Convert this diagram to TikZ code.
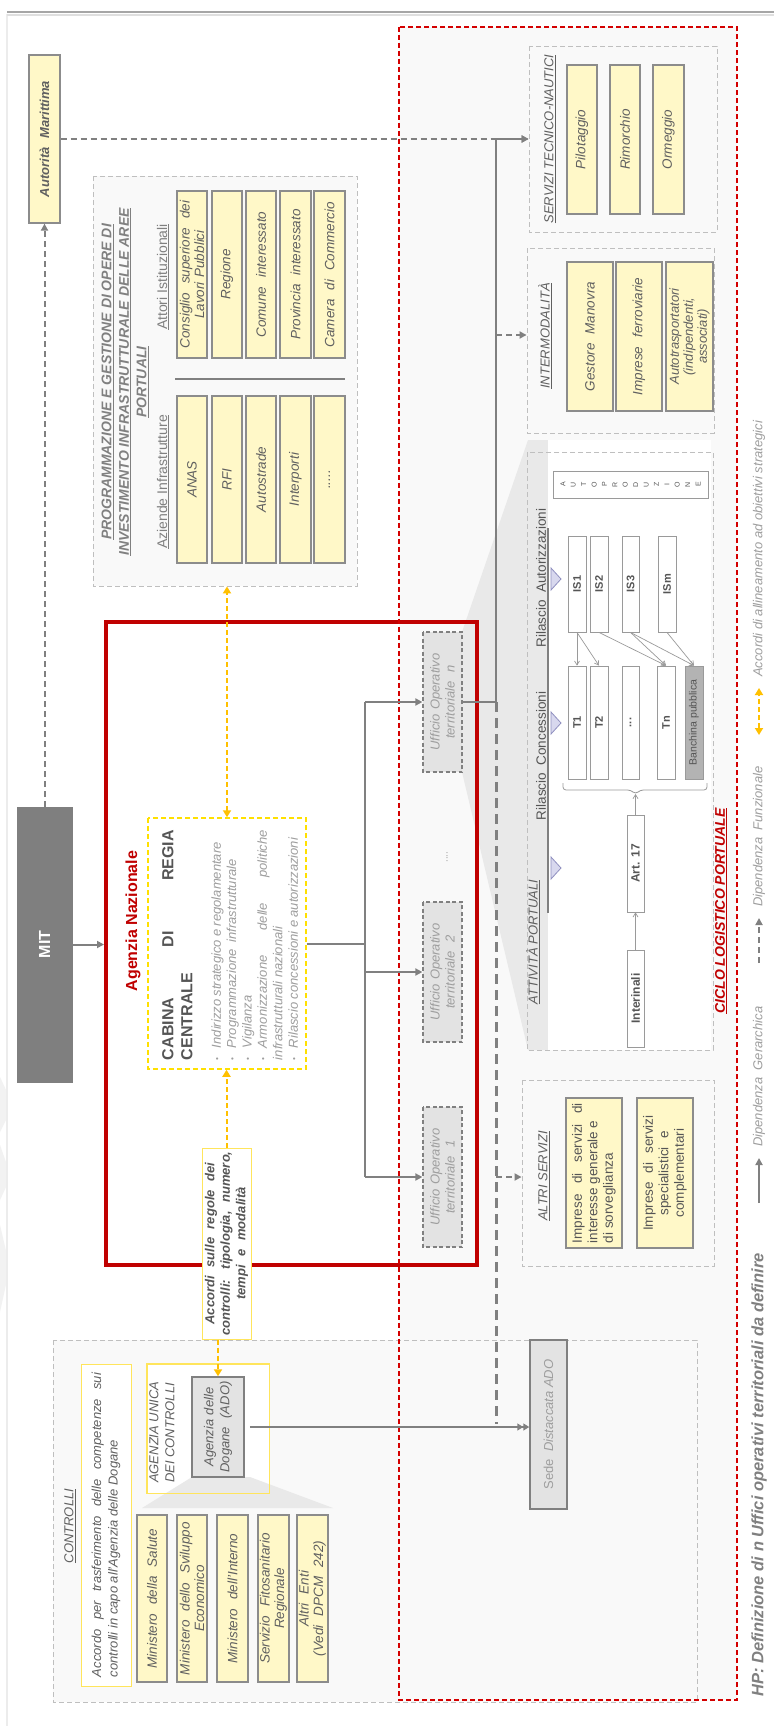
\documentclass[tikz,border=0pt]{standalone}
\usepackage{fontspec}
\setmainfont{Liberation Sans}
\usetikzlibrary{arrows.meta}

\definecolor{ylw}{HTML}{FFF8C8}
\definecolor{boxline}{HTML}{8C8C8C}
\definecolor{thinline}{HTML}{9A9A9A}
\definecolor{sectline}{HTML}{BFBFBF}
\definecolor{sectfill}{HTML}{F9F9F9}
\definecolor{txt}{HTML}{606060}
\definecolor{lighttxt}{HTML}{9E9E9E}
\definecolor{darktxt}{HTML}{555555}
\definecolor{agred}{HTML}{C00000}
\definecolor{dashred}{HTML}{D40000}
\definecolor{accyel}{HTML}{FFC000}
\definecolor{cabyel}{HTML}{FFE000}
\definecolor{accline}{HTML}{FFE55C}
\definecolor{arrgray}{HTML}{808080}
\definecolor{mitgray}{HTML}{7F7F7F}
\definecolor{ufffill}{HTML}{E3E3E3}
\definecolor{fanfill}{HTML}{E9E9E9}
\definecolor{trifill}{HTML}{D8D8EE}
\definecolor{triline}{HTML}{9090C0}
\definecolor{banchfill}{HTML}{B3B3B3}

\newcommand{\fsz}[2]{\fontsize{#1}{#2}\selectfont}
\newcommand{\bul}[1]{\par\noindent\hangindent=12pt\hangafter=1\makebox[12pt][l]{\raisebox{1pt}{\fsz{8}{8}\textbullet}}#1}

\tikzset{
  rot/.style={rotate=90},
  sz/.style 2 args={minimum width=#1pt, minimum height=#2pt},
  tw/.style={text width=#1pt},
  ybox/.style={rot, draw=boxline, line width=1.3pt, fill=ylw, text=txt, align=center, inner sep=1pt, font=\fsz{13.5}{14.5}\itshape},
  wbox/.style={rot, draw=thinline, line width=0.8pt, fill=white, text=darktxt, align=center, inner sep=0pt, font=\fsz{11}{12}\bfseries},
  secbox/.style={rot, draw=sectline, line width=0.9pt, dash pattern=on 5pt off 3pt, fill=sectfill, inner sep=0pt},
  seclab/.style={rot, text=txt, font=\fsz{13}{15}\itshape, inner sep=0pt},
  uffbox/.style={rot, draw=arrgray, line width=1.2pt, dash pattern=on 4pt off 2.5pt, fill=ufffill, text=lighttxt, align=center, inner sep=0pt, font=\fsz{13}{15}\itshape},
  yframe/.style={rot, draw=accline, line width=1pt, fill=white, inner sep=1pt},
  gline/.style={draw=arrgray, line width=2pt},
  hdep/.style={gline, -{Triangle[length=7pt,width=7pt]}},
  fdep/.style={hdep, dash pattern=on 6pt off 4pt},
  bigdash/.style={draw=arrgray, line width=3pt, dash pattern=on 10pt off 6pt},
  agree/.style={draw=accyel, line width=2pt, dash pattern=on 5pt off 3pt},
  agreeone/.style={agree, -{Triangle[length=7pt,width=8pt]}},
  agreetwo/.style={agree, {Triangle[length=7pt,width=8pt]}-{Triangle[length=7pt,width=8pt]}},
  thinarr/.style={draw=thinline, line width=0.7pt, -{Straight Barb[length=4pt,width=5pt]}},
  legtxt/.style={rot, anchor=west, text=lighttxt, font=\fsz{13}{15}\itshape, inner sep=0pt},
}

\begin{document}
\hyphenpenalty=10000
\exhyphenpenalty=10000
\begin{tikzpicture}[x=1pt,y=-1pt]
% page
\fill[white] (0,0) rectangle (774,1726);
\useasboundingbox (0,0) rectangle (774,1726);
\fill[gray!10] (0,1077) -- (7,1092) -- (7,1118) -- (0,1132) -- cycle;
\fill[gray!10] (0,1145) -- (7,1165) -- (7,1185) -- (0,1200) -- cycle;
\fill[gray!10] (0,1225) -- (7,1255) -- (7,1280) -- (0,1312) -- cycle;
\draw[gray!15, line width=2pt] (7,14) -- (7,1726);
\draw[gray!25, line width=2pt] (7,15) -- (774,15);
\draw[gray!70, line width=2.5pt] (7,12) -- (774,12);

% port logistics area background
\fill[sectfill] (399,27) rectangle (737,1700);

% controls area
\node[secbox, sz={362}{644}] (ctrl) at (375,1521) {};

% fans
\fill[fanfill] (462,632) -- (528,440) -- (548,440) -- (548,1050) -- (528,1050) -- (462,772) -- cycle;
\fill[white] (548,440) rectangle (711,1050);

% ---------- top left: authority and programming ----------
\node[ybox, sz={168}{31}, tw={160}, font=\fsz{13}{14}\bfseries\itshape] (aut) at (44.5,139) {Autorità \ Marittima};
\node[rot, fill=mitgray, draw=mitgray, sz={275}{55}, text=white, font=\fsz{16}{18}\bfseries] (mit) at (44.5,944.5) {MIT};

\node[secbox, sz={410}{264}] (prog) at (225,381) {};
\node[rot, text=arrgray, align=center, font=\fsz{14}{17.5}\bfseries\itshape, inner sep=0pt] (progtit) at (125,382)
  {\underline{PROGRAMMAZIONE E GESTIONE DI OPERE DI}\\ \underline{INVESTIMENTO INFRASTRUTTURALE DELLE AREE}\\ \underline{PORTUALI}};
\node[rot, text=arrgray, font=\fsz{14}{16}, inner sep=0pt] (azlab) at (163,482) {\underline{Aziende Infrastrutture}};
\node[rot, text=arrgray, font=\fsz{14}{16}, inner sep=0pt] (atlab) at (163,277) {\underline{Attori Istituzionali}};

\node[ybox, sz={167}{30}, tw={160}] (cslp) at (192,274.5) {Consiglio \ superiore \ dei\\ Lavori Pubblici};
\node[ybox, sz={167}{30}, tw={160}] (reg) at (227,274.5) {Regione};
\node[ybox, sz={167}{30}, tw={160}] (com) at (261,274.5) {Comune \ interessato};
\node[ybox, sz={167}{31}, tw={160}] (prov) at (295.5,274.5) {Provincia \ interessato};
\node[ybox, sz={167}{31}, tw={160}] (ccia) at (329.5,274.5) {Camera \ di \ Commercio};

\node[ybox, sz={167}{30}, tw={160}] (anas) at (192,479.5) {ANAS};
\node[ybox, sz={167}{30}, tw={160}] (rfi) at (227,479.5) {RFI};
\node[ybox, sz={167}{30}, tw={160}] (auts) at (261,479.5) {Autostrade};
\node[ybox, sz={167}{31}, tw={160}] (intp) at (295.5,479.5) {Interporti};
\node[ybox, sz={167}{31}, tw={160}] (altz) at (329.5,479.5) {.....};

\coordinate (sepa) at (175,379);
\coordinate (sepb) at (345,379);
\draw[arrgray, line width=2pt] (sepa) -- (sepb);

% ---------- national agency ----------
\node[draw=agred, line width=4pt, minimum width=371pt, minimum height=643pt, inner sep=0pt] (ag) at (291.5,943.5) {};
\node[rot, text=agred, font=\fsz{16}{18}\bfseries, inner sep=0pt] (agname) at (133,921) {Agenzia Nazionale};

\node[rot, draw=cabyel, line width=1.5pt, dash pattern=on 5pt off 3pt, fill=white, sz={251}{158}] (cab) at (227,943.5) {};
\node[rot, anchor=north, inner sep=0pt, text width=230pt, align=left, text=darktxt] (cabtxt) at (162,945) {%
  {\fsz{16}{19}\bfseries CABINA\hfill DI\hfill REGIA\\ CENTRALE\par}
  \vspace{13pt}
  {\fsz{13}{15.4}\itshape\color{lighttxt}%
  \bul{Indirizzo strategico e regolamentare}
  \bul{Programmazione \ infrastrutturale}
  \bul{Vigilanza}
  \bul{Armonizzazione\hfill delle\hfill politiche\\ infrastrutturali nazionali}
  \bul{Rilascio concessioni e autorizzazioni}\par}};

\node[uffbox, sz={140}{39}, tw={136}] (ufn) at (442.5,702) {Ufficio Operativo\\ territoriale \ n};
\node[uffbox, sz={140}{39}, tw={136}] (uf2) at (442.5,972) {Ufficio Operativo\\ territoriale \ 2};
\node[uffbox, sz={140}{39}, tw={136}] (uf1) at (442.5,1177) {Ufficio Operativo\\ territoriale \ 1};
\node[rot, text=lighttxt, font=\fsz{10}{10}, inner sep=0pt] (ufdots) at (447,857) {....};

\node[yframe, sz={191}{49}, tw={185}, text=darktxt, align=center, font=\fsz{13}{15.5}\bfseries\itshape] (acc) at (226.5,1243.5)
  {Accordi \ sulle \ regole \ dei\\ controlli: \ tipologia, \ numero,\\ tempi \ e \ modalità};

% ---------- controls ----------
\node[seclab] (ctrllab) at (70,1526) {\underline{CONTROLLI}};
\node[yframe, sz={322}{50}, tw={304}, text=txt, align=justify, font=\fsz{13}{16.5}\itshape] (accordo) at (106,1525)
  {Accordo per trasferimento delle competenze sui\linebreak controlli in capo all'Agenzia delle Dogane};
\node[yframe, sz={129}{122}] (auc) at (208,1428.5) {};
\fill[fanfill] (192,1477) -- (250,1477) -- (333,1508) -- (142,1508) -- cycle;
\draw[accline, line width=1pt] (auc.north west) rectangle (auc.south east);
\node[rot, anchor=north west, text=txt, font=\fsz{13}{16}\itshape, align=left, inner sep=0pt] (auclab) at (149,1483) {AGENZIA UNICA\\ DEI CONTROLLI};
\node[rot, draw=arrgray, line width=1.5pt, fill=ufffill, sz={100}{52}, tw={96}, text=txt, align=center, font=\fsz{13}{16}\itshape, inner sep=1pt] (ado) at (218,1427) {Agenzia delle\\ Dogane \ (ADO)};

\node[ybox, sz={167}{30}, tw={160}] (msal) at (152,1598.5) {Ministero \ della \ Salute};
\node[ybox, sz={167}{30}, tw={160}] (msvil) at (192,1598.5) {Ministero \ dello \ Sviluppo\\ Economico};
\node[ybox, sz={167}{31}, tw={160}] (mint) at (232.5,1598.5) {Ministero \ dell'Interno};
\node[ybox, sz={167}{31}, tw={160}] (sfr) at (273.5,1598.5) {Servizio \ Fitosanitario\\ Regionale};
\node[ybox, sz={167}{31}, tw={160}] (altri) at (312.5,1598.5) {Altri \ Enti\\ (Vedi \ DPCM \ 242)};

\node[rot, draw=arrgray, line width=1.5pt, fill=ufffill, sz={169}{37}, text=lighttxt, font=\fsz{13}{15}, inner sep=0pt] (sede) at (548.5,1424.5) {Sede \ \textit{Distaccata ADO}};

% ---------- nautical services ----------
\node[secbox, sz={186}{188}] (stn) at (623,139) {};
\node[seclab] (stnlab) at (550,139) {\underline{SERVIZI TECNICO-NAUTICI}};
\node[ybox, sz={149}{30}, tw={140}] (pil) at (582,139.5) {Pilotaggio};
\node[ybox, sz={149}{30}, tw={140}] (rim) at (625,139.5) {Rimorchio};
\node[ybox, sz={149}{31}, tw={140}] (orm) at (668.5,139.5) {Ormeggio};

% ---------- intermodality ----------
\node[secbox, sz={185}{187}] (intm) at (620.5,340.5) {};
\node[seclab] (intmlab) at (545,336) {\underline{INTERMODALITÀ}};
\node[ybox, sz={149}{46}, tw={140}] (gman) at (590,336.5) {Gestore \ Manovra};
\node[ybox, sz={149}{46}, tw={140}] (impf) at (639,336.5) {Imprese \ ferroviarie};
\node[ybox, sz={149}{47}, tw={140}, font=\fsz{13}{14}\itshape] (autot) at (689.5,336.5) {Autotrasportatori\\ (indipendenti,\\ associati)};

% ---------- port activities ----------
\node[secbox, fill=none, sz={598}{186}] (att) at (620,751) {};
\coordinate (tla) at (548,528);
\coordinate (tlb) at (548,913);
\draw[arrgray, line width=1.5pt] (tla) -- (tlb);
\filldraw[fill=trifill, draw=triline, line width=0.8pt] (551,568) -- (561,579) -- (551,590) -- cycle;
\filldraw[fill=trifill, draw=triline, line width=0.8pt] (551,712) -- (561,723) -- (551,734) -- cycle;
\filldraw[fill=trifill, draw=triline, line width=0.8pt] (551,857) -- (561,868) -- (551,879) -- cycle;
\node[seclab] (attlab) at (533,942) {\underline{ATTIVITÀ PORTUALI}};
\node[rot, text=darktxt, font=\fsz{13.5}{15}, inner sep=0pt] (rcon) at (541,756) {Rilascio \ Concessioni};
\node[rot, text=darktxt, font=\fsz{13.5}{15}, inner sep=0pt] (raut) at (541,578) {Rilascio \ Autorizzazioni};

\node[rot, draw=thinline, line width=0.8pt, fill=white, sz={27}{155}, align=center, text=darktxt, font=\fsz{7}{10.4}, inner sep=0pt] (autop) at (630.5,484.5)
  {A\\U\\T\\O\\P\\R\\O\\D\\U\\Z\\I\\O\\N\\E};

\node[wbox, sz={96}{18}] (is1) at (577,584) {IS1};
\node[wbox, sz={96}{18}] (is2) at (599,584) {IS2};
\node[wbox, sz={96}{17}] (is3) at (630.5,584) {IS3};
\node[wbox, sz={96}{18}] (ism) at (667,584) {ISm};

\node[wbox, sz={113}{18}] (t1) at (577,722.5) {T1};
\node[wbox, sz={113}{18}] (t2) at (599,722.5) {T2};
\node[wbox, sz={113}{17}] (tdots) at (630.5,722.5) {...};
\node[wbox, sz={113}{18}] (tn) at (666,722.5) {Tn};
\node[wbox, sz={113}{18}, fill=banchfill, font=\fsz{10.5}{12}] (banch) at (694,722.5) {Banchina pubblica};

\draw[thinarr] (is1.west) -- (t1.east);
\draw[thinarr] (is1.west) -- (t2.east);
\draw[thinarr] (is2.west) -- (tn.east);
\draw[thinarr] (is3.west) -- (tn.east);
\draw[thinarr] (is3.west) -- (banch.east);
\draw[thinarr] (ism.west) -- (banch.east);

\coordinate (brL) at (563,783);
\coordinate (brLb) at (563,790);
\coordinate (brRb) at (707,790);
\coordinate (brR) at (707,783);
\coordinate (brTip) at (635.5,794);
\draw[thinline, line width=0.8pt, rounded corners=3pt] (brL) -- (brLb) -- (630.5,790) -- (brTip) -- (640.5,790) -- (brRb) -- (brR);

\node[wbox, sz={97}{17}, font=\fsz{12}{13}\bfseries] (art) at (635.5,863.5) {Art. 17};
\node[wbox, sz={97}{17}, font=\fsz{12}{13}\bfseries] (inter) at (635.5,998.5) {Interinali};
\draw[thinarr] (inter.east) -- (art.west);
\draw[thinarr] (art.east) -- (brTip);

\node[rot, text=agred, font=\fsz{14}{16}\bfseries\itshape, inner sep=0pt] (ciclo) at (721,911) {\underline{CICLO LOGISTICO PORTUALE}};

% ---------- other services ----------
\node[secbox, sz={186}{192}] (altsv) at (618,1173) {};
\node[seclab] (altlab) at (544,1176) {\underline{ALTRI SERVIZI}};
\node[ybox, sz={150}{56}, tw={140}, text=darktxt, align=justify, font=\fsz{13.5}{15.5}] (isg) at (594,1173)
  {Imprese \ di \ servizi \ di interesse generale e\\ di sorveglianza};
\node[ybox, sz={150}{56}, tw={140}, text=darktxt, align=center, font=\fsz{13.5}{15.5}] (isc) at (665,1173)
  {Imprese \ di \ servizi\\ specialistici \ e\\ complementari};

% red frames on top
\draw[dashred, line width=1.5pt, dash pattern=on 5pt off 3pt] (399,27) rectangle (737,1700);

% ---------- connectors ----------
\draw[fdep] (mit.east) -- (aut.west);
\draw[fdep] (aut.south) -- (aut.south -| stn.north);
\draw[hdep] (mit.south) -- (mit.south -| ag.west);

\coordinate (busN) at (365,702);
\coordinate (busM) at (365,972);
\coordinate (busI) at (365,1177);
\draw[gline] (cab.south) -- (cab.south -| busN);
\draw[gline] (busN) -- (busI);
\draw[hdep] (busN) -- (ufn.north);
\draw[hdep] (busM) -- (uf2.north);
\draw[hdep] (busI) -- (uf1.north);

\coordinate (vtop) at (496,139);
\coordinate (vmid) at (496,702);
\coordinate (vint) at (496,335);
\coordinate (valt) at (496,1177);
\coordinate (vbot) at (496,1424);
\draw[hdep] (ufn.south) -- (vmid) -- (vtop) -- (vtop -| stn.north);
\draw[bigdash] (vmid) -- (vbot);
\draw[fdep] (vint) -- (vint -| intm.north);
\draw[fdep] (valt) -- (valt -| altsv.north);
\draw[gline, shorten <=5pt, -{Triangle[length=6pt,width=7pt]Triangle[length=6pt,width=7pt]}] (ado.south) -- (ado.south -| sede.north);

\draw[agreetwo] (cab.east) -- (cab.east |- prog.west);
\draw[agreeone] (acc.east) -- (acc.east |- cab.west);
\draw[agreeone] (ado.east |- acc.west) -- (ado.east);

% ---------- legend ----------
\coordinate (lgAa) at (759,1203);
\coordinate (lgAb) at (759,1158);
\draw[hdep] (lgAa) -- (lgAb);
\node[legtxt] (lgAt) at (759,1147) {Dipendenza \ Gerarchica};
\coordinate (lgBa) at (759,963);
\coordinate (lgBb) at (759,918);
\draw[fdep] (lgBa) -- (lgBb);
\node[legtxt] (lgBt) at (759,907) {Dipendenza \ Funzionale};
\coordinate (lgCa) at (759,735);
\coordinate (lgCb) at (759,688);
\draw[agreetwo] (lgCa) -- (lgCb);
\node[legtxt] (lgCt) at (759,677) {Accordi di allineamento ad obiettivi strategici};

\node[rot, anchor=west, text=arrgray, font=\fsz{16.5}{18}\bfseries\itshape, inner sep=0pt] (hp) at (759,1697)
  {HP: Definizione di n Uffici operativi territoriali da definire};
\end{tikzpicture}
\end{document}
